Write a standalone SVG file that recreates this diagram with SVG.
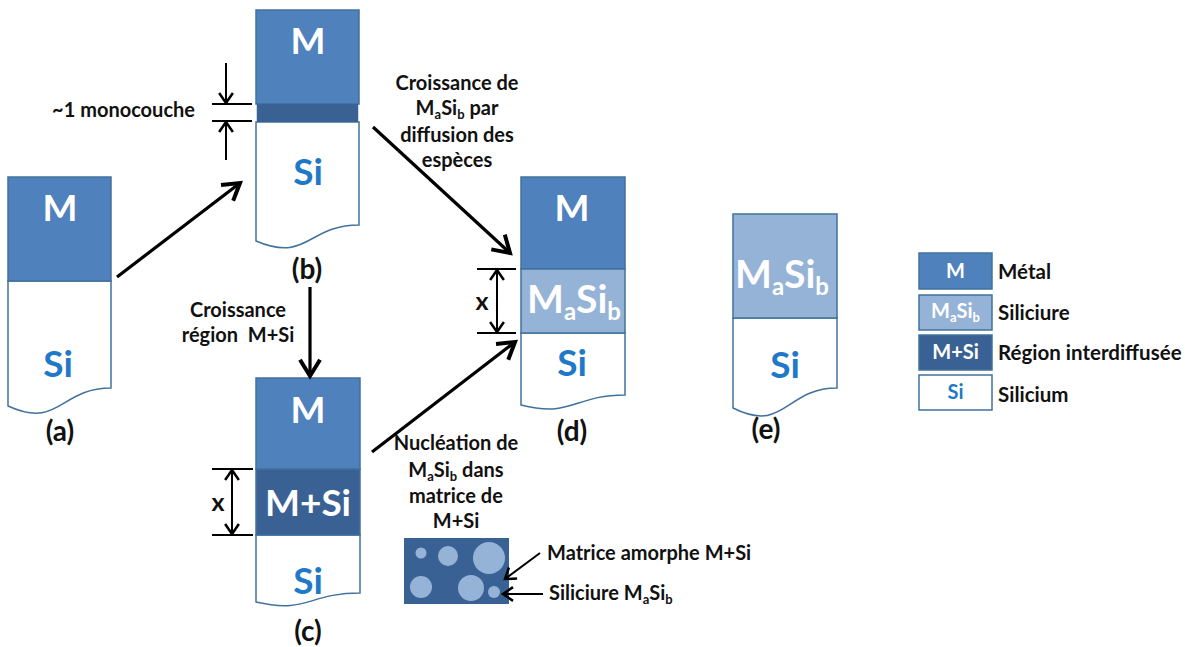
<svg xmlns="http://www.w3.org/2000/svg" width="1185" height="647" viewBox="0 0 1185 647">
<defs>
<style>
text{font-family:"Lato","Liberation Sans",sans-serif;font-weight:bold;}
.lay{stroke:#41719C;stroke-width:1.5;}
.m{fill:#4F81BD;}
.ms{fill:#95B3D7;}
.mx{fill:#3A6194;}
.si{fill:#FFFFFF;}
.wt{fill:#FFFFFF;font-size:37px;text-anchor:middle;}
.bt{fill:#1F78C8;font-size:37px;text-anchor:middle;}
.lbl{fill:#111;font-size:28px;text-anchor:middle;}
.ann{fill:#111;font-size:20px;}
.leg{fill:#111;font-size:20.5px;}
.lw{fill:#FFFFFF;font-size:20px;text-anchor:middle;}
.lb{fill:#1F78C8;font-size:20px;text-anchor:middle;}
.arr{stroke:#000;stroke-width:3.2;fill:none;marker-end:url(#ah);}
.dim{stroke:#000;stroke-width:2;fill:none;}
.da{marker-end:url(#sh);}
.ds{marker-start:url(#shs);}
</style>
<marker id="ah" markerUnits="userSpaceOnUse" markerWidth="30" markerHeight="30" refX="0" refY="0" viewBox="-16 -12 20 24" orient="auto"><path d="M-13,-8 L0,0 L-13,8" fill="none" stroke="#000" stroke-width="3.2"/></marker>
<marker id="sh" markerUnits="userSpaceOnUse" markerWidth="20" markerHeight="20" refX="0" refY="0" viewBox="-10 -8 12 16" orient="auto"><path d="M-8,-5.5 L0,0 L-8,5.5" fill="none" stroke="#000" stroke-width="2"/></marker>
<marker id="shs" markerUnits="userSpaceOnUse" markerWidth="20" markerHeight="20" refX="0" refY="0" viewBox="-2 -8 12 16" orient="auto"><path d="M8,-5.5 L0,0 L8,5.5" fill="none" stroke="#000" stroke-width="2"/></marker>
</defs>
<rect width="1185" height="647" fill="#FFFFFF"/>

<g id="node-a">
<path class="lay si" d="M8,281 L111,281 L111,388 C59.5,388 59.5,429.6 8,406 Z"/>
<rect class="lay m" x="8" y="177" width="103" height="104"/>
<text class="wt" x="60" y="221">M</text>
<text class="bt" x="58" y="377">Si</text>
<text class="lbl" x="60" y="441">(a)</text>
</g>

<g id="node-b">
<path class="lay si" d="M256,122 L359,122 L359,225 C307.5,225 307.5,263 256,241 Z"/>
<rect class="lay m" x="256" y="10" width="103" height="94"/>
<rect class="mx" x="256.75" y="104" width="101.5" height="18"/>
<text class="wt" x="308" y="54">M</text>
<text class="bt" x="308" y="185">Si</text>
<text class="lbl" x="307" y="279">(b)</text>
</g>

<g id="node-c">
<path class="lay si" d="M256,535 L360,535 L360,593 C308,593 308,614 256,602 Z"/>
<rect class="lay m" x="256" y="378" width="104" height="91"/>
<rect class="lay mx" x="256" y="469" width="104" height="66"/>
<text class="wt" x="308" y="423">M</text>
<text class="wt" x="308" y="516">M+Si</text>
<text class="bt" x="308" y="594">Si</text>
<text class="lbl" x="308" y="641">(c)</text>
</g>

<g id="node-d">
<path class="lay si" d="M521,333 L625,333 L625,395 C573,395 573,418 521,405 Z"/>
<rect class="lay m" x="521" y="177" width="104" height="92"/>
<rect class="lay ms" x="521" y="269" width="104" height="64"/>
<text class="wt" x="572" y="221">M</text>
<text class="wt" x="574" y="313" style="font-size:39px">M<tspan style="font-size:24px" dy="7">a</tspan><tspan dy="-7">Si</tspan><tspan style="font-size:24px" dy="7">b</tspan></text>
<text class="bt" x="572" y="376">Si</text>
<text class="lbl" x="572" y="441">(d)</text>
</g>

<g id="node-e">
<path class="lay si" d="M733,318 L837,318 L837,388 C785,388 785,434 733,408 Z"/>
<rect class="lay ms" x="733" y="214" width="104" height="104"/>
<text class="wt" x="782" y="288" style="font-size:39px">M<tspan style="font-size:24px" dy="7">a</tspan><tspan dy="-7">Si</tspan><tspan style="font-size:24px" dy="7">b</tspan></text>
<text class="bt" x="785" y="378">Si</text>
<text class="lbl" x="766" y="439">(e)</text>
</g>

<g id="legend">
<rect class="lay m" x="919" y="253" width="73" height="36"/>
<text class="lw" x="955.5" y="278">M</text>
<text class="leg" x="998" y="279">Métal</text>
<rect class="lay ms" x="919" y="295" width="73" height="35"/>
<text class="lw" x="955.5" y="318">M<tspan style="font-size:13px" dy="4">a</tspan><tspan dy="-4">Si</tspan><tspan style="font-size:13px" dy="4">b</tspan></text>
<text class="leg" x="998" y="320">Siliciure</text>
<rect class="lay mx" x="919" y="335" width="73" height="35"/>
<text class="lw" x="955.5" y="359">M+Si</text>
<text class="leg" x="998" y="360">Région interdiffusée</text>
<rect class="lay si" x="919" y="375" width="73" height="35"/>
<text class="lb" x="955.5" y="399">Si</text>
<text class="leg" x="998" y="402">Silicium</text>
</g>

<g id="nucleation">
<text class="ann" text-anchor="middle" x="456" y="450">Nucléation de</text>
<text class="ann" text-anchor="middle" x="456" y="477">M<tspan style="font-size:13px" dy="4">a</tspan><tspan dy="-4">Si</tspan><tspan style="font-size:13px" dy="4">b</tspan><tspan dy="-4"> dans</tspan></text>
<text class="ann" text-anchor="middle" x="456" y="503">matrice de</text>
<text class="ann" text-anchor="middle" x="456" y="528">M+Si</text>
<rect x="404" y="538" width="105" height="66" fill="#3A6194"/>
<g fill="#95B3D7">
<circle cx="421" cy="553" r="5.5"/>
<circle cx="448" cy="556" r="10"/>
<circle cx="489" cy="558" r="16"/>
<circle cx="421" cy="587" r="11"/>
<circle cx="471" cy="588" r="13"/>
<circle cx="494" cy="592" r="6"/>
</g>
<text class="ann" x="547" y="560">Matrice amorphe M+Si</text>
<text class="ann" x="549" y="600">Siliciure M<tspan style="font-size:13px" dy="4">a</tspan><tspan dy="-4">Si</tspan><tspan style="font-size:13px" dy="4">b</tspan></text>
</g>

<g id="annotations">
<text class="ann" text-anchor="end" x="195" y="117">~1 monocouche</text>
<text class="ann" text-anchor="middle" x="238" y="317">Croissance</text>
<text class="ann" text-anchor="middle" x="238" y="342">région&#160; M+Si</text>
<text class="ann" text-anchor="middle" x="457" y="90">Croissance de</text>
<text class="ann" text-anchor="middle" x="457" y="115">M<tspan style="font-size:13px" dy="4">a</tspan><tspan dy="-4">Si</tspan><tspan style="font-size:13px" dy="4">b</tspan><tspan dy="-4"> par</tspan></text>
<text class="ann" text-anchor="middle" x="457" y="142">diffusion des</text>
<text class="ann" text-anchor="middle" x="457" y="167">espèces</text>
<text class="ann" text-anchor="middle" x="218" y="511" style="font-size:25px">x</text>
<text class="ann" text-anchor="middle" x="482" y="310" style="font-size:25px">x</text>
</g>

<g id="connectors">
<line class="arr" x1="117" y1="277" x2="240" y2="183"/>
<line class="arr" x1="310" y1="287" x2="310" y2="376"/>
<line class="arr" x1="373" y1="127" x2="510" y2="253"/>
<line class="arr" x1="372" y1="452" x2="515" y2="342"/>
<line class="dim" x1="212" y1="104" x2="252" y2="104"/>
<line class="dim" x1="212" y1="121" x2="252" y2="121"/>
<line class="dim da" x1="226" y1="63" x2="226" y2="103"/>
<line class="dim da" x1="226" y1="160" x2="226" y2="122"/>
<line class="dim" x1="212" y1="469" x2="253" y2="469"/>
<line class="dim" x1="212" y1="535" x2="253" y2="535"/>
<line class="dim da ds" x1="232" y1="470" x2="232" y2="534"/>
<line class="dim" x1="477" y1="269" x2="516" y2="269"/>
<line class="dim" x1="477" y1="333" x2="516" y2="333"/>
<line class="dim da ds" x1="497" y1="270" x2="497" y2="332"/>
<line class="dim da" x1="540" y1="553" x2="505" y2="579"/>
<line class="dim da" x1="543" y1="594" x2="503" y2="594"/>
</g>
</svg>
